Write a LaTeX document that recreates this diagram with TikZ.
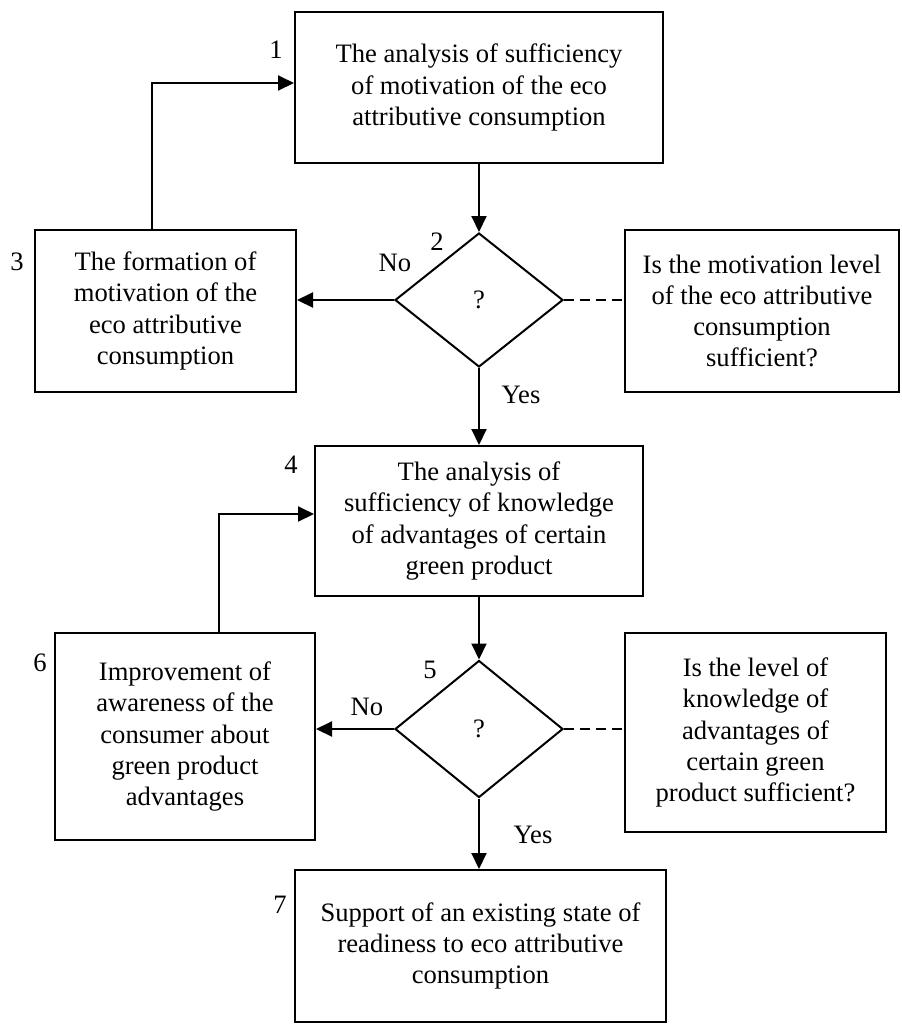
\documentclass[tikz,border=0pt]{standalone}
\usepackage{fontspec}
\setmainfont{Liberation Serif}
\usetikzlibrary{arrows.meta,shapes.geometric}

\begin{document}
\begin{tikzpicture}[x=0.5pt, y=-0.5pt, line width=1pt,
    every node/.style={font=\fontsize{13.3}{15.6}\selectfont},
    block/.style={draw, align=center, inner sep=0pt},
    check/.style={draw, diamond, inner sep=0pt, minimum width=84pt, minimum height=67pt},
    flow/.style={-{Triangle[length=8pt,width=7.5pt]}},
    hint/.style={dash pattern=on 5pt off 3pt}]
    \useasboundingbox (0,0) rectangle (901,1024);

    \node[block, minimum width=184pt, minimum height=75.5pt] (b1) at (479,87.5) {The analysis of sufficiency\\of motivation of the eco\\attributive consumption};
    \node[check] (d2) at (479,300) {?};
    \node[block, minimum width=130.5pt, minimum height=81pt] (b3) at (165.5,311) {The formation of\\motivation of the\\eco attributive\\consumption};
    \node[block, minimum width=137pt, minimum height=81pt] (q2) at (762,311) {Is the motivation level\\of the eco attributive\\consumption\\sufficient?};
    \node[block, minimum width=164pt, minimum height=75pt] (b4) at (479,521) {The analysis of\\sufficiency of knowledge\\of advantages of certain\\green product};
    \node[check, minimum height=68.5pt] (d5) at (479,729) {?};
    \node[block, minimum width=130pt, minimum height=103.5pt] (b6) at (185,736.5) {Improvement of\\awareness of the\\consumer about\\green product\\advantages};
    \node[block, minimum width=130.5pt, minimum height=99.5pt] (q5) at (755.5,732.5) {Is the level of\\knowledge of\\advantages of\\certain green\\product sufficient?};
    \node[block, minimum width=185.5pt, minimum height=76pt] (b7) at (480.5,946) {Support of an existing state of\\readiness to eco attributive\\consumption};

    \node (n1) at (276,50) {1};
    \node (n2) at (437,242) {2};
    \node (n3) at (17,262) {3};
    \node (n4) at (291,465) {4};
    \node (n5) at (430,670) {5};
    \node (n6) at (40,663) {6};
    \node (n7) at (280,905) {7};

    \node (no2) at (395,263) {No};
    \node (yes2) at (521,395) {Yes};
    \node (no5) at (367,707) {No};
    \node (yes5) at (533,835) {Yes};

    \coordinate (k3) at (152,83);
    \coordinate (k6) at (219,514);

    \draw[flow] (b1.south) -- (d2.north);
    \draw[flow] (d2.west) -- (d2.west -| b3.east);
    \draw[hint] (d2.east) -- (d2.east -| q2.west);
    \draw[flow] (k3 |- b3.north) -- (k3) -- (k3 -| b1.west);
    \draw[flow] (d2.south) -- (b4.north);
    \draw[flow] (b4.south) -- (d5.north);
    \draw[flow] (d5.west) -- (d5.west -| b6.east);
    \draw[hint] (d5.east) -- (d5.east -| q5.west);
    \draw[flow] (k6 |- b6.north) -- (k6) -- (k6 -| b4.west);
    \draw[flow] (d5.south) -- (d5.south |- b7.north);
\end{tikzpicture}
\end{document}
